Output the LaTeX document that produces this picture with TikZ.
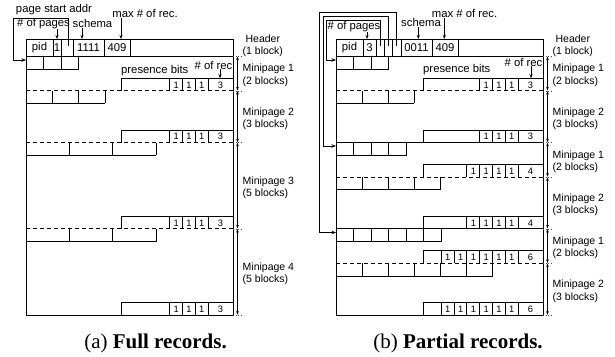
\documentclass[tikz,border=0pt]{standalone}
\usepackage{fontspec}
\setmainfont{Liberation Sans}
\newfontfamily\capfont{Liberation Serif}
\usetikzlibrary{arrows.meta}
\tikzset{
  ln/.style={line width=0.75pt, black},
  dsh/.style={ln, dash pattern=on 4pt off 3pt},
  ext/.style={line width=0.5pt, black!70, dash pattern=on 1pt off 1.5pt},
  ptr/.style={ln, -{Stealth[length=4.5pt,width=3.5pt]}},
  lblarr/.style={line width=0.6pt, -{Stealth[length=4pt,width=3pt]}},
  spanarr/.style={line width=0.6pt, {Stealth[length=3.5pt,width=2.6pt]}-{Stealth[length=3.5pt,width=2.6pt]}},
  toplbl/.style={font=\fontsize{11.3}{13}\selectfont, inner sep=0pt},
  cellfont/.style={font=\fontsize{11.3}{13}\selectfont, inner sep=0pt},
  sidelbl/.style={font=\fontsize{10.5}{12.5}\selectfont, inner sep=0pt, align=left},
  bitfont/.style={font=\fontsize{9.3}{10}\selectfont, inner sep=0pt},
  capt/.style={font=\capfont\fontsize{21}{25}\selectfont, inner sep=0pt},
}
% record row: #1 L, #2 ytop, #3 ybot, #4 n, #5 width
\newcommand{\RecRow}[5]{%
  \draw[ln] (#1,#3) -- ({#1+#4*#5},#3);
  \foreach \k in {1,...,#4} {\draw[ln] ({#1+\k*#5},#2) -- ({#1+\k*#5},#3);}
}
% presence row: #1 name, #2 step x, #3 R, #4 ytop, #5 ybot, #6 nbits, #7 count
\newcommand{\PresRow}[7]{%
  \draw[ln] (#2,#5) -- (#2,#4) -- (#3,#4);
  \draw[ln] ({#3-25},#4) -- ({#3-25},#5);
  \foreach \k in {1,...,#6} {
    \draw[ln] ({#3-25-\k*12.8},#4) -- ({#3-25-\k*12.8},#5);
    \node[bitfont] (#1-b\k) at ({#3-25-\k*12.8+6.6},{(#4+#5)/2+0.3}) {1};
  }
  \node[bitfont] (#1-n) at ({#3-12.5},{(#4+#5)/2+0.3}) {#7};
}
% side span: #1 name, #2 R, #3 ytop, #4 ybot, #5 line1, #6 line2
\newcommand{\SideSpan}[6]{%
  \draw[ext] (#2,#4) -- ({#2+9},#4);
  \draw[spanarr] ({#2+4.5},{#3+0.3}) -- ({#2+4.5},{#4-0.3});
  \node[sidelbl, anchor=west] (#1) at ({#2+9.5},{(#3+#4)/2+2}) {#5\\#6};
}
\begin{document}
\begin{tikzpicture}[x=1pt,y=-1pt]
\useasboundingbox (0,0) rectangle (615,356);

% ================= Panel (a) =================
\draw[ln] (26,39) rectangle (233,315);
\draw[ln] (26,56.25) -- (233,56.25);
\foreach \x in {53,61,73,104,130} {\draw[ln] (\x,39) -- (\x,56.25);}
\node[cellfont] (a-pid) at (39.5,47.8) {pid};
\node[cellfont] (a-np) at (57,47.8) {1};
\node[cellfont] (a-sch) at (88.5,47.8) {1111};
\node[cellfont] (a-max) at (117,47.8) {409};
\foreach \y in {90.75,142.5,228.75} {\draw[dsh] (26,\y) -- (233,\y);}
\RecRow{26}{56.25}{69.25}{3}{17.5}
\RecRow{26}{90.75}{103}{3}{26.3}
\RecRow{26}{142.5}{155}{3}{43.3}
\RecRow{26}{228.75}{241.5}{3}{43.3}
\PresRow{a1}{121}{233}{78.25}{90.75}{3}{3}
\PresRow{a2}{121}{233}{130}{142.5}{3}{3}
\PresRow{a3}{121}{233}{216.25}{228.75}{3}{3}
\PresRow{a4}{121}{233}{302.5}{315}{3}{3}

% top labels (a)
\node[toplbl] (a-psa) at (54,10) {page start addr};
\node[toplbl] (a-pages) at (43.5,24) {\# of pages};
\node[toplbl] (a-schema) at (92.5,23.3) {schema};
\node[toplbl] (a-maxrec) at (145,13.3) {max \# of rec.};
\coordinate (a-pgtip) at (57,39);
\coordinate (a-sctip) at (82,39);
\coordinate (a-mxtip) at (121,39);
\draw[lblarr] (a-pages.south -| a-pgtip) -- (a-pgtip);
\draw[lblarr] (a-schema.south -| a-sctip) -- (a-sctip);
\draw[lblarr] (a-maxrec.south -| a-mxtip) -- (a-mxtip);
\coordinate (a-ptr) at (68,46);
\coordinate (a-first) at (26,60);
\draw[ptr] (a-ptr) -- (68,18) -- (13,18) -- (13,60) -- (a-first);

% presence labels (a)
\node[toplbl, anchor=west] (a-pb) at (121,71) {presence bits};
\node[toplbl, anchor=east] (a-nr) at (232.5,65) {\# of rec};
\coordinate (a-nrtip) at (220,78.25);
\draw[lblarr] (a-nr.south -| a-nrtip) -- (a-nrtip);

% side annotations (a)
\draw[ext] (233,56.25) -- (242,56.25);
\node[sidelbl, align=center, anchor=west] (a-hdr) at (242.5,46) {Header\\(1 block)};
\SideSpan{a-mp1}{233}{56.25}{90.75}{Minipage 1}{(2 blocks)}
\SideSpan{a-mp2}{233}{90.75}{142.5}{Minipage 2}{(3 blocks)}
\SideSpan{a-mp3}{233}{142.5}{228.75}{Minipage 3}{(5 blocks)}
\SideSpan{a-mp4}{233}{228.75}{315}{Minipage 4}{(5 blocks)}

\node[capt] (a-cap) at (155.5,343) {(a) \textbf{Full records.}};

% ================= Panel (b) =================
\draw[ln] (336,39) rectangle (543,315);
\draw[ln] (336,56.25) -- (543,56.25);
\foreach \x in {363,376,384.3,392.7,401,432,458} {\draw[ln] (\x,39) -- (\x,56.25);}
\node[cellfont] (b-pid) at (349.5,47.8) {pid};
\node[cellfont] (b-np) at (369.5,47.8) {3};
\node[cellfont] (b-sch) at (416.5,47.8) {0011};
\node[cellfont] (b-max) at (445,47.8) {409};
\foreach \y in {90.75,177,263.25} {\draw[dsh] (336,\y) -- (543,\y);}
\foreach \y in {142.5,228.75} {\draw[ln] (336,\y) -- (543,\y);}
\RecRow{336}{56.25}{69.25}{3}{17.5}
\RecRow{336}{90.75}{103}{3}{26}
\RecRow{336}{142.5}{155.5}{4}{17.5}
\RecRow{336}{177}{189.5}{4}{26}
\RecRow{336}{228.75}{241.75}{6}{17.5}
\RecRow{336}{263.25}{276.5}{6}{26}
\PresRow{b1}{423}{543}{78.25}{90.75}{3}{3}
\PresRow{b2}{423}{543}{130}{142.5}{3}{3}
\PresRow{b3}{423}{543}{164.5}{177}{4}{4}
\PresRow{b4}{423}{543}{216.25}{228.75}{4}{4}
\PresRow{b5}{423}{543}{250.75}{263.25}{6}{6}
\PresRow{b6}{423}{543}{302.5}{315}{6}{6}

% top labels (b)
\node[toplbl] (b-pages) at (354,26.7) {\# of pages};
\node[toplbl] (b-schema) at (421,22.7) {schema};
\node[toplbl] (b-maxrec) at (464.5,13.3) {max \# of rec.};
\coordinate (b-pgtip) at (367,39);
\coordinate (b-sctip) at (418.3,39);
\coordinate (b-mxtip) at (444.3,39);
\draw[lblarr] (b-pages.south -| b-pgtip) -- (b-pgtip);
\draw[lblarr] (b-schema.south -| b-sctip) -- (b-sctip);
\draw[lblarr] (b-maxrec.south -| b-mxtip) -- (b-mxtip);
\coordinate (b-ptr1) at (380,46);
\coordinate (b-ptr2) at (388.3,46);
\coordinate (b-ptr3) at (396.7,46);
\coordinate (b-pg1) at (336,60);
\coordinate (b-pg2) at (336,146);
\coordinate (b-pg3) at (336,232.5);
\draw[ptr] (b-ptr1) -- (380,20.7) -- (326.7,20.7) -- (326.7,60) -- (b-pg1);
\draw[ptr] (b-ptr2) -- (388.3,16.5) -- (323,16.5) -- (323,146) -- (b-pg2);
\draw[ptr] (b-ptr3) -- (396.7,12.3) -- (319.3,12.3) -- (319.3,232.5) -- (b-pg3);

% presence labels (b)
\node[toplbl, anchor=west] (b-pb) at (423,70) {presence bits};
\node[toplbl, anchor=east] (b-nr) at (542.5,62) {\# of rec};
\coordinate (b-nrtip) at (531,78.25);
\draw[lblarr] (b-nr.south -| b-nrtip) -- (b-nrtip);

% side annotations (b)
\draw[ext] (543,56.25) -- (552,56.25);
\node[sidelbl, align=center, anchor=west] (b-hdr) at (552.5,46) {Header\\(1 block)};
\SideSpan{b-mp1}{543}{56.25}{90.75}{Minipage 1}{(2 blocks)}
\SideSpan{b-mp2}{543}{90.75}{142.5}{Minipage 2}{(3 blocks)}
\SideSpan{b-mp3}{543}{142.5}{177}{Minipage 1}{(2 blocks)}
\SideSpan{b-mp4}{543}{177}{228.75}{Minipage 2}{(3 blocks)}
\SideSpan{b-mp5}{543}{228.75}{263.25}{Minipage 1}{(2 blocks)}
\SideSpan{b-mp6}{543}{263.25}{315}{Minipage 2}{(3 blocks)}

\node[capt] (b-cap) at (458,343) {(b) \textbf{Partial records.}};
\end{tikzpicture}
\end{document}
